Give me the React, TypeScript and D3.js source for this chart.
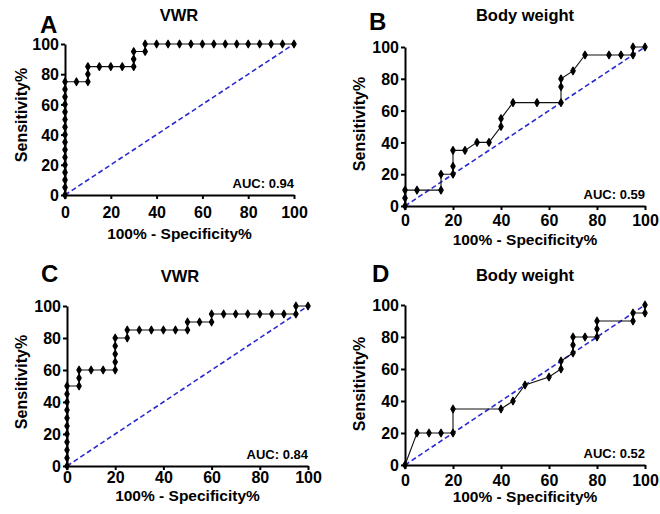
import React, { useEffect, useRef } from 'react';
import * as d3 from 'd3';

// ROC points as [100% - specificity, sensitivity]
const vwrTop: [number, number][] = [
  [0, 0], [0, 5], [0, 10], [0, 15], [0, 20], [0, 25], [0, 30], [0, 35], [0, 40], [0, 45],
  [0, 50], [0, 55], [0, 60], [0, 65], [0, 70], [0, 75], [5, 75], [10, 75], [10, 80], [10, 85],
  [15, 85], [20, 85], [25, 85], [30, 85], [30, 90], [30, 95], [35, 95], [35, 100], [40, 100],
  [45, 100], [50, 100], [55, 100], [60, 100], [65, 100], [70, 100], [75, 100], [80, 100],
  [85, 100], [90, 100], [95, 100], [100, 100],
];

const weightTop: [number, number][] = [
  [0, 0], [0, 5], [0, 10], [5, 10], [15, 10], [15, 20], [20, 20], [20, 25], [20, 35], [25, 35],
  [30, 40], [35, 40], [40, 50], [40, 55], [45, 65], [55, 65], [65, 65], [65, 75], [65, 80],
  [70, 85], [75, 95], [85, 95], [90, 95], [95, 95], [95, 100], [100, 100],
];

const vwrBottom: [number, number][] = [
  [0, 0], [0, 5], [0, 10], [0, 15], [0, 20], [0, 25], [0, 30], [0, 35], [0, 40], [0, 45],
  [0, 50], [5, 50], [5, 55], [5, 60], [10, 60], [15, 60], [20, 60], [20, 65], [20, 70], [20, 75],
  [20, 80], [25, 80], [25, 85], [30, 85], [35, 85], [40, 85], [45, 85], [50, 85], [50, 90],
  [55, 90], [60, 90], [60, 95], [65, 95], [70, 95], [75, 95], [80, 95], [85, 95], [90, 95],
  [95, 95], [95, 100], [100, 100],
];

const weightBottom: [number, number][] = [
  [0, 0], [5, 20], [10, 20], [15, 20], [20, 20], [20, 35], [40, 35], [45, 40], [50, 50],
  [60, 55], [65, 60], [65, 65], [70, 70], [70, 75], [70, 80], [75, 80], [80, 80], [80, 85],
  [80, 90], [95, 90], [95, 95], [100, 95], [100, 100],
];

const ticks = [0, 20, 40, 60, 80, 100];
const letters = ['A', 'B', 'C', 'D'];
const titles = ['VWR', 'Body weight', 'VWR', 'Body weight'];
const aucs = ['0.94', '0.59', '0.84', '0.52'];
const series = [vwrTop, weightTop, vwrBottom, weightBottom];

// plot boxes and text anchors, in page pixels
const layout = [
  { x0: 65, x1: 294, y0: 195, y1: 44, tp: 7.5, lx: 40, ly: 33, tx: 179, ty: 21, yl: 27, yc: 115, xl: 239 },
  { x0: 405, x1: 645, y0: 206, y1: 47, tp: 5, lx: 369, ly: 30, tx: 525, ty: 21, yl: 365, yc: 124, xl: 245 },
  { x0: 67, x1: 308, y0: 466, y1: 306, tp: 2, lx: 41, ly: 282, tx: 180, ty: 282, yl: 27, yc: 382, xl: 501 },
  { x0: 405, x1: 645, y0: 465, y1: 305, tp: 5.5, lx: 372, ly: 282, tx: 525, ty: 281, yl: 365, yc: 384, xl: 502 },
];

const font = "'Liberation Sans', Arial, sans-serif";

const App = () => {
  const svgRef = useRef<SVGSVGElement>(null);

  useEffect(() => {
    const svg = d3.select(svgRef.current);
    svg.selectAll('*').remove();

    series.forEach((pts, i) => {
      const L = layout[i];
      const x = d3.scaleLinear().domain([0, 100]).range([L.x0, L.x1]);
      const y = d3.scaleLinear().domain([0, 100]).range([L.y0, L.y1]);
      const g = svg.append('g');

      // chance line
      g.append('line')
        .attr('x1', x(0)).attr('y1', y(0))
        .attr('x2', x(100)).attr('y2', y(100))
        .attr('stroke', '#2a2ad2')
        .attr('stroke-width', 1.6)
        .attr('stroke-dasharray', '5,3');

      const line = d3.line<[number, number]>()
        .x(d => x(d[0]))
        .y(d => y(d[1]));

      g.append('path')
        .attr('d', line(pts))
        .attr('fill', 'none')
        .attr('stroke', '#111')
        .attr('stroke-width', 1.1);

      const sym = d3.symbol().type(d3.symbolDiamond).size(16);
      g.selectAll('.pt')
        .data(pts)
        .enter().append('path')
        .attr('class', 'pt')
        .attr('transform', d => `translate(${x(d[0])},${y(d[1])})`)
        .attr('d', sym)
        .attr('fill', '#000')
        .attr('stroke', '#000')
        .attr('stroke-width', 1.3)
        .attr('stroke-linejoin', 'round');

      const xAxis = g.append('g')
        .attr('transform', `translate(0,${L.y0})`)
        .call(d3.axisBottom(x).tickValues(ticks).tickSize(4).tickSizeOuter(0).tickPadding(L.tp));
      const yAxis = g.append('g')
        .attr('transform', `translate(${L.x0},0)`)
        .call(d3.axisLeft(y).tickValues(ticks).tickSize(4).tickSizeOuter(0).tickPadding(2));

      [xAxis, yAxis].forEach(a => {
        a.selectAll('path, line').attr('stroke', '#000').attr('stroke-width', 2);
        a.selectAll('text')
          .attr('font-family', font)
          .attr('font-weight', 'bold')
          .attr('font-size', 16)
          .attr('fill', '#000');
      });
      yAxis.selectAll('text').attr('dy', '0.36em');

      // texts
      g.append('text')
        .attr('x', L.lx).attr('y', L.ly)
        .attr('font-family', font).attr('font-weight', 'bold').attr('font-size', 24)
        .text(letters[i]);

      g.append('text')
        .attr('x', L.tx).attr('y', L.ty)
        .attr('text-anchor', 'middle')
        .attr('font-family', font).attr('font-weight', 'bold').attr('font-size', 16.5)
        .text(titles[i]);

      g.append('text')
        .attr('transform', `translate(${L.yl},${L.yc}) rotate(-90)`)
        .attr('text-anchor', 'middle')
        .attr('font-family', font).attr('font-weight', 'bold').attr('font-size', 16)
        .text('Sensitivity%');

      g.append('text')
        .attr('x', (L.x0 + L.x1) / 2).attr('y', L.xl)
        .attr('text-anchor', 'middle')
        .attr('font-family', font).attr('font-weight', 'bold').attr('font-size', 15.5)
        .text('100% - Specificity%');

      g.append('text')
        .attr('x', L.x1).attr('y', L.y0 - 7)
        .attr('text-anchor', 'end')
        .attr('font-family', font).attr('font-weight', 'bold').attr('font-size', 13)
        .text(`AUC: ${aucs[i]}`);
    });
  }, []);

  return (
    <svg
      ref={svgRef}
      width={660}
      height={514}
      style={{ position: 'absolute', left: 0, top: 0, background: '#fff' }}
    />
  );
};

export default App;
